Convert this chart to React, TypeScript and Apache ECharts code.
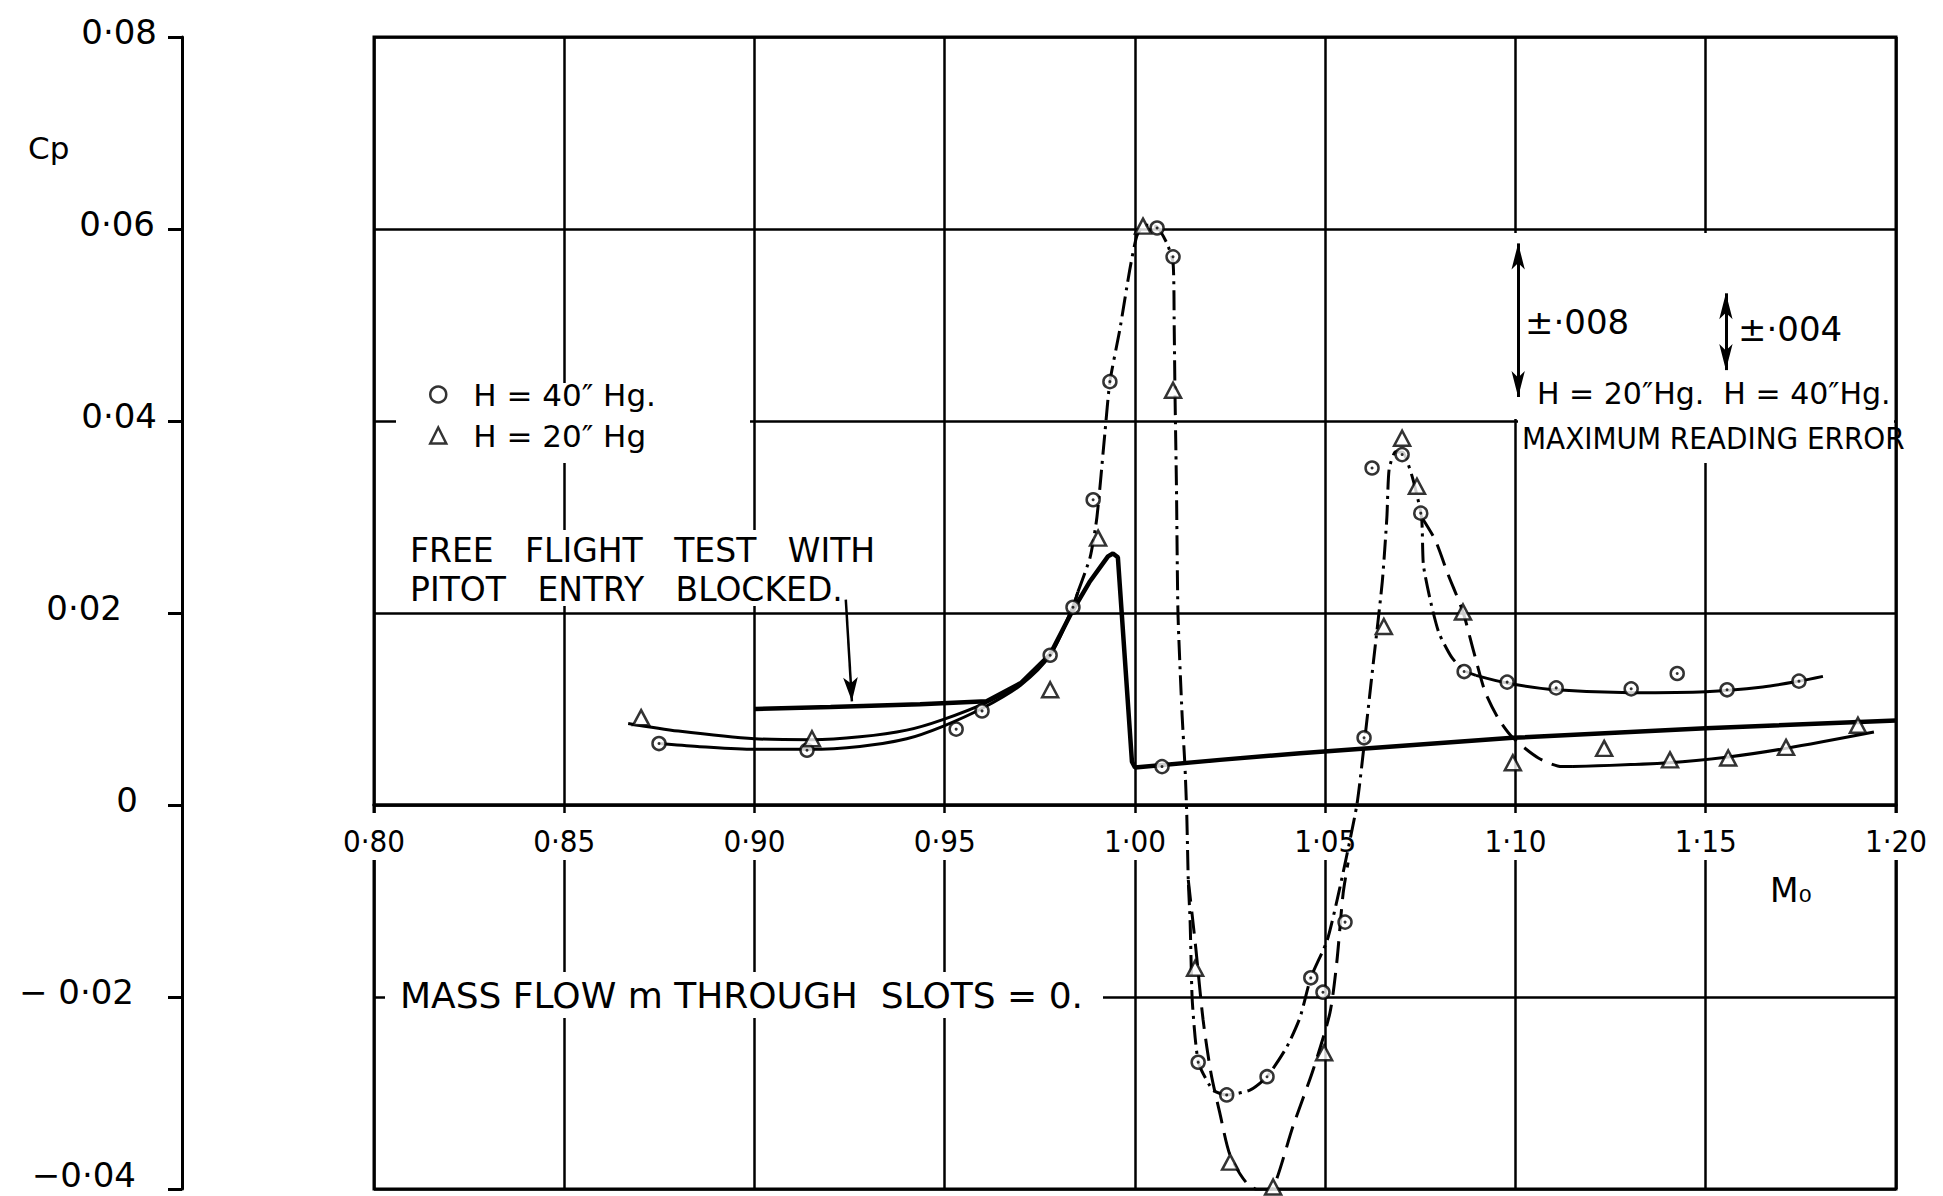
import React, { useEffect, useRef } from "react";
import * as echarts from "echarts";

// ---- tick labels ----
const xTickLabels = ["0·80", "0·85", "0·90", "0·95", "1·00", "1·05", "1·10", "1·15", "1·20"];
const yTickLabels = ["−0·04", "− 0·02", "0", "0·02", "0·04", "0·06", "0·08"];
const yLabelShift = [21, 23, 19, 35, 0, 2, 0];
const yLabelLift = [18, 0, 0, 0, 0, 0, 0];

// ---- measured points (Mo, Cp) ----
const h40Points = [
  [0.8749, 0.0064], [0.9138, 0.0057], [0.953, 0.0079], [0.9598, 0.0098], [0.9777, 0.0156],
  [0.9837, 0.0206], [0.989, 0.0318], [0.9934, 0.0441], [1.0058, 0.0601], [1.01, 0.0571],
  [1.0071, 0.004], [1.0166, -0.0268], [1.0241, -0.0302], [1.0347, -0.0283], [1.0462, -0.018],
  [1.0494, -0.0195], [1.0552, -0.0122], [1.0602, 0.007], [1.0623, 0.0351], [1.0702, 0.0365],
  [1.0751, 0.0304], [1.0865, 0.0139], [1.0978, 0.0128], [1.1107, 0.0122], [1.1304, 0.0121],
  [1.1425, 0.0137], [1.1556, 0.012], [1.1745, 0.0129],
];
const h20Points = [
  [0.8702, 0.0091], [0.9151, 0.0069], [0.9777, 0.012], [0.9903, 0.0278], [1.0021, 0.0603],
  [1.01, 0.0432], [1.0158, -0.017], [1.025, -0.0372], [1.0363, -0.0398], [1.0497, -0.0258],
  [1.0654, 0.0186], [1.0702, 0.0382], [1.0741, 0.0332], [1.0862, 0.0201], [1.0993, 0.0044],
  [1.1233, 0.0059], [1.1406, 0.0047], [1.1559, 0.0049], [1.1711, 0.006], [1.19, 0.0083],
];

// ---- faired curves ----
const freeFlight = [
  [0.9001, 0.01], [0.92, 0.0102], [0.9435, 0.0105], [0.961, 0.0108], [0.97, 0.0127],
  [0.9777, 0.0157], [0.9834, 0.0201], [0.988, 0.0232], [0.9929, 0.0259], [0.9942, 0.0262],
  [0.9955, 0.0258], [0.9992, 0.0045], [1.0, 0.0039], [1.0223, 0.0047], [1.0434, 0.0054],
  [1.0993, 0.007], [1.15, 0.008], [1.2, 0.0088],
];
const h40Low = [
  [0.8749, 0.0064], [0.885, 0.0061], [0.9, 0.0058], [0.9143, 0.0058], [0.9277, 0.0061],
  [0.94, 0.0069], [0.9495, 0.0082], [0.96, 0.0101], [0.97, 0.0125], [0.9777, 0.0156],
  [0.9834, 0.0203], [0.985, 0.0222],
];
const h40DashDot = [
  [0.985, 0.0222], [0.9882, 0.0258], [0.99, 0.03], [0.9921, 0.0388], [0.9934, 0.0441],
  [0.996, 0.0495], [0.9986, 0.0557], [1.0005, 0.0593], [1.0025, 0.0604], [1.0058, 0.0602],
  [1.0084, 0.0585], [1.01, 0.0565], [1.0103, 0.05], [1.0105, 0.0432], [1.0109, 0.033],
  [1.0113, 0.0199], [1.0124, 0.0092], [1.0131, 0.0043], [1.0136, -0.0009], [1.014, -0.0078],
  [1.0145, -0.0123], [1.015, -0.02], [1.0158, -0.0242], [1.0168, -0.027], [1.0205, -0.0297],
  [1.0241, -0.0302], [1.0302, -0.0297], [1.0347, -0.0283], [1.0399, -0.0252], [1.0434, -0.0221],
  [1.0462, -0.018], [1.0505, -0.0141], [1.0539, -0.0085], [1.0583, 0.0], [1.0604, 0.0069],
  [1.0626, 0.0147], [1.065, 0.0233], [1.0662, 0.03], [1.0668, 0.035], [1.0685, 0.0368],
  [1.0705, 0.0367], [1.073, 0.034], [1.0753, 0.03], [1.0758, 0.025], [1.0778, 0.021],
  [1.0799, 0.0179], [1.0832, 0.0154], [1.0865, 0.014], [1.0896, 0.0135],
];
const h40High = [
  [1.0896, 0.0135], [1.0978, 0.0127], [1.1107, 0.012], [1.1304, 0.0117], [1.15, 0.0118],
  [1.165, 0.0123], [1.1745, 0.0129], [1.1808, 0.0134],
];
const h20Low = [
  [0.8668, 0.0085], [0.88, 0.0077], [0.9, 0.0069], [0.915, 0.0068], [0.9277, 0.0071],
  [0.94, 0.0078], [0.9495, 0.0089], [0.961, 0.0107], [0.97, 0.0127], [0.9777, 0.0157],
  [0.9834, 0.0204], [0.985, 0.0222],
];
const h20DashDip = [
  [1.014, -0.0078], [1.016, -0.015], [1.0179, -0.0224], [1.02, -0.028], [1.0223, -0.0321],
  [1.025, -0.0365], [1.0294, -0.0394], [1.0337, -0.0403], [1.0363, -0.0399], [1.0415, -0.0335],
  [1.0468, -0.0276], [1.0512, -0.0217], [1.053, -0.0165], [1.0547, -0.0092], [1.056, -0.006],
];
const h20DashTail = [
  [1.0753, 0.03], [1.0789, 0.0276], [1.0822, 0.0241], [1.0862, 0.0201], [1.089, 0.016],
  [1.092, 0.0118], [1.0955, 0.009], [1.0993, 0.007], [1.106, 0.0049], [1.1122, 0.004],
  [1.1151, 0.004],
];
const h20High = [
  [1.1151, 0.004], [1.1404, 0.0044], [1.1559, 0.005], [1.1711, 0.0059], [1.1942, 0.0076],
];

// ---- maximum reading error bars ----
const errorBarM = [1.1007, 1.1553];
const errorBarMid = [0.0505, 0.0493];
const errorBarHalf = [0.008, 0.004];

// ---- pointer to free flight curve ----
const blockedArrow = [[0.924, 0.0214], [0.9256, 0.0108]];

const X_MIN = 0.8, X_MAX = 1.2, X_STEP = 0.05;
const Y_MIN = -0.04, Y_MAX = 0.08, Y_STEP = 0.02;

const NUM_FONT = "'DejaVu Sans', sans-serif";
const COND_FONT = "'DejaVu Sans Condensed', 'DejaVu Sans', sans-serif";
const TXT_FONT = "'DejaVu Sans', sans-serif";

export default function App() {
  const ref = useRef<HTMLDivElement>(null);
  useEffect(() => {
    if (!ref.current) return;
    const chart = echarts.init(ref.current, null, { renderer: "svg" });

    const gridLeft = 374, gridTop = 37, gridW = 1522, gridH = 1152;
    // position of the Mo axis: the Cp = 0 level of the grid
    const zeroOffset = -(gridH * (0 - Y_MIN)) / (Y_MAX - Y_MIN);

    const lineBase = (name: string, data: number[][], width: number, type: any, smooth: any) => ({
      name,
      type: "line",
      data,
      showSymbol: false,
      symbol: "none",
      smooth,
      z: 2,
      lineStyle: { color: "#000", width, type },
      silent: true,
    });
    const rich: any = {};
    yLabelShift.forEach((s, i) => {
      rich["s" + i] = { fontSize: 34, fontFamily: NUM_FONT, color: "#000", padding: [0, s, yLabelLift[i], 0] };
    });
    const textEl = (text: string, x: number, y: number, size: number, font = TXT_FONT, lh?: number) => ({
      type: "text",
      x,
      y,
      z: 3,
      style: {
        text,
        fontSize: size,
        fontFamily: font,
        fill: "#000",
        verticalAlign: "middle",
        align: "left",
        lineHeight: lh ?? size,
      },
    });
    const whiteRect = (x: number, y: number, w: number, h: number) => ({
      type: "rect",
      z: 1,
      shape: { x, y, width: w, height: h },
      style: { fill: "#fff" },
      silent: true,
    });

    chart.setOption({
      animation: false,
      backgroundColor: "#fff",
      textStyle: { fontFamily: TXT_FONT },
      grid: {
        left: gridLeft,
        top: gridTop,
        width: gridW,
        height: gridH,
        show: true,
        borderColor: "#000",
        borderWidth: 3,
        containLabel: false,
        outerBoundsMode: "none",
      },
      legend: {
        data: ["H = 40″ Hg.", "H = 20″ Hg"],
        orient: "vertical",
        left: 424,
        top: 374,
        itemWidth: 16,
        itemHeight: 16,
        itemGap: 10,
        selectedMode: false,
        itemStyle: { color: "#fff", borderColor: "#000", borderWidth: 2.5 },
        textStyle: { fontFamily: TXT_FONT, fontSize: 31, color: "#000", lineHeight: 30, padding: [0, 0, 0, 22] },
      },
      xAxis: [
        {
          type: "value",
          min: X_MIN,
          max: X_MAX,
          interval: X_STEP,
          position: "bottom",
          offset: zeroOffset,
          z: 1,
          axisLine: { show: true, onZero: false, lineStyle: { color: "#000", width: 3.5 } },
          axisTick: { show: false },
          splitLine: { show: false },
          axisLabel: {
            showMinLabel: true,
            showMaxLabel: true,
            formatter: (v: number) => xTickLabels[Math.round((v - X_MIN) / X_STEP)],
            fontFamily: COND_FONT,
            fontSize: 31,
            lineHeight: 32,
            color: "#000",
            margin: 8,
            padding: [12, 4, 3, 4],
            backgroundColor: "#fff",
          },
        },
        {
          type: "value",
          min: X_MIN,
          max: X_MAX,
          interval: X_STEP,
          position: "top",
          z: 0,
          axisLine: { show: false },
          axisTick: { show: false },
          axisLabel: { show: false },
          splitLine: { show: true, lineStyle: { color: "#000", width: 2.5 } },
        },
      ],
      yAxis: {
        type: "value",
        min: Y_MIN,
        max: Y_MAX,
        interval: Y_STEP,
        position: "left",
        offset: 192,
        z: 0,
        axisLine: { show: true, onZero: false, lineStyle: { color: "#000", width: 3 } },
        axisTick: { show: true, inside: false, length: 14, lineStyle: { color: "#000", width: 3 } },
        axisLabel: {
          margin: 25,
          padding: [0, 0, 10, 0],
          formatter: (v: number) => {
            const i = Math.round((v - Y_MIN) / Y_STEP);
            return "{s" + i + "|" + yTickLabels[i] + "}";
          },
          rich,
        },
        splitLine: { show: true, lineStyle: { color: "#000", width: 2.5 } },
      },
      series: [
        {
          ...lineBase("free flight", freeFlight, 4.5, "solid", false),
          markLine: {
            silent: true,
            symbol: ["none", "arrow"],
            symbolSize: [11, 24],
            label: { show: false },
            lineStyle: { color: "#000", width: 2.5, type: "solid" },
            data: [[{ coord: blockedArrow[0] }, { coord: blockedArrow[1] }]],
          },
        },
        lineBase("h40 low", h40Low, 3, "solid", 0.3),
        lineBase("h40 dashdot", h40DashDot, 3, [20, 6, 3, 6], 0.2),
        lineBase("h40 high", h40High, 3, "solid", 0.3),
        lineBase("h20 low", h20Low, 3, "solid", 0.3),
        lineBase("h20 dip", h20DashDip, 3, [22, 10], 0.25),
        lineBase("h20 tail", h20DashTail, 3, [22, 10], 0.25),
        lineBase("h20 high", h20High, 3, "solid", 0.3),
        {
          name: "error bars",
          type: "line",
          data: [],
          silent: true,
          markLine: {
            silent: true,
            symbol: ["arrow", "arrow"],
            symbolSize: [10, 26],
            label: { show: false },
            lineStyle: { color: "#000", width: 3, type: "solid" },
            data: errorBarM.map((m, i) => [
              { coord: [m, errorBarMid[i] + errorBarHalf[i]] },
              { coord: [m, errorBarMid[i] - errorBarHalf[i]] },
            ]),
          },
        },
        {
          name: "H = 40″ Hg.",
          type: "scatter",
          data: h40Points,
          symbol: "circle",
          symbolSize: 13,
          z: 4,
          itemStyle: { color: "#fff", borderColor: "#000", borderWidth: 2.5 },
          silent: true,
        },
        {
          name: "h40 centre",
          type: "scatter",
          data: h40Points,
          symbol: "circle",
          symbolSize: 3,
          z: 5,
          itemStyle: { color: "#000" },
          silent: true,
        },
        {
          name: "H = 20″ Hg",
          type: "scatter",
          data: h20Points,
          symbol: "triangle",
          symbolSize: [16, 15],
          z: 4,
          itemStyle: { color: "#fff", borderColor: "#000", borderWidth: 2.5 },
          silent: true,
        },
      ],
      graphic: [
        whiteRect(396, 383, 354, 80),
        whiteRect(400, 530, 510, 76),
        whiteRect(385, 972, 718, 46),
        whiteRect(1512, 233, 382, 186),
        whiteRect(1518, 419, 376, 44),
        textEl("Cp", 28, 148, 31),
        textEl("M₀", 1770, 890, 33),
        textEl("FREE   FLIGHT   TEST   WITH", 410, 550, 33),
        textEl("PITOT   ENTRY   BLOCKED.", 410, 589, 33),
        textEl("MASS FLOW m THROUGH  SLOTS = 0.", 400, 995, 36),
        textEl("±·008", 1525, 322, 34),
        textEl("±·004", 1738, 329, 34),
        textEl("H = 20″Hg.  H = 40″Hg.", 1537, 393, 30),
        textEl("MAXIMUM READING ERROR", 1522, 438, 31, COND_FONT),
      ],
    });
    return () => chart.dispose();
  }, []);
  return (
    <div
      ref={ref}
      style={{ position: "absolute", left: 0, top: 0, width: 1943, height: 1196, background: "#fff" }}
    />
  );
}
